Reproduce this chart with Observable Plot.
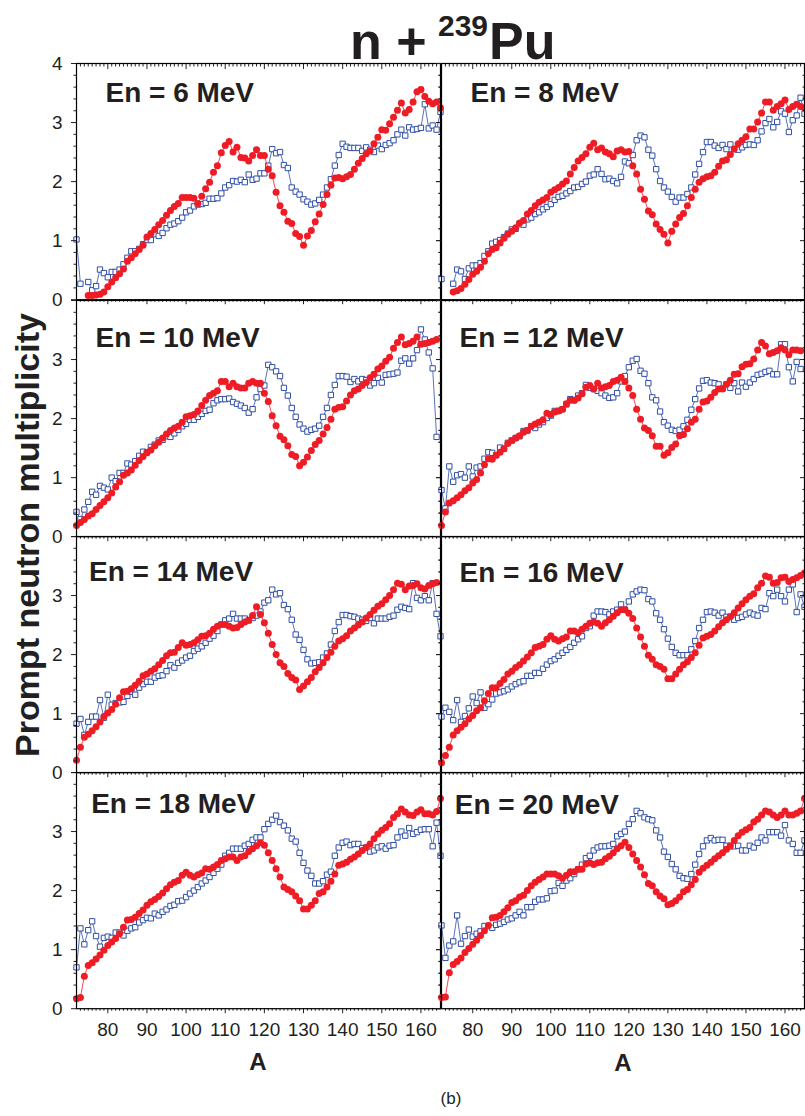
<!DOCTYPE html>
<html><head><meta charset="utf-8">
<script src="https://cdn.jsdelivr.net/npm/d3@7"></script>
<script src="https://cdn.jsdelivr.net/npm/@observablehq/plot@0.6"></script>
<style>
body{margin:0;background:#fff;}
#wrap{position:relative;width:805px;height:1116px;overflow:hidden;background:#fff;font-family:"Liberation Sans",Arial,sans-serif;color:#231f20}
.panel{position:absolute}
.t{position:absolute;line-height:0;white-space:nowrap}
</style></head><body>
<div id="wrap"></div>
<script>
// ---------------- data ----------------
const energies = [6, 8, 10, 12, 14, 16, 18, 20];
const redStartA  = [75, 75, 72, 72, 72, 72, 72, 72];
const blueStartA = [72, 72, 72, 72, 72, 72, 72, 72];

const red6 = [0.07,0.07,0.08,0.09,0.13,0.22,0.30,0.37,0.44,0.52, 0.65,0.71,0.78,0.85,0.92,1.06,1.12,1.19,1.27,1.34, 1.43,1.51,1.58,1.63,1.73,1.73,1.73,1.72,1.63,1.75, 1.88,1.99,2.16,2.27,2.49,2.61,2.68,2.50,2.58,2.41, 2.40,2.35,2.44,2.54,2.44,2.44,2.21,2.10,1.82,1.59, 1.48,1.33,1.29,1.12,1.07,0.92,1.08,1.17,1.32,1.45, 1.61,1.78,1.94,2.06,2.07,2.05,2.08,2.12,2.21,2.31, 2.39,2.47,2.52,2.64,2.75,2.88,2.87,2.98,3.09,3.21, 3.33,3.16,3.22,3.35,3.52,3.56,3.44,3.36,3.32,3.35, 3.25];
const blue6 = [1.02,0.27,null, 0.30,0.16,0.23,0.51,0.45,0.38,0.47,0.47,0.51,0.60, 0.71,0.82,0.82,0.86,0.94,1.01,1.01,1.11,1.08,1.13, 1.21,1.27,1.29,1.33,1.39,1.48,1.51,1.58,1.61,1.62, 1.64,1.71,1.71,1.72,1.80,1.90,1.94,2.01,2.00,2.03, 1.99,2.12,2.03,2.05,2.14,2.14,2.27,2.55,2.48,2.50, 2.28,2.23,1.90,1.83,1.78,1.70,1.66,1.61,1.63,1.69, 1.78,1.90,2.04,2.27,2.45,2.64,2.59,2.57,2.57,2.57, 2.52,2.58,2.54,2.50,2.61,2.55,2.62,2.65,2.70,2.80, 2.88,2.78,2.92,2.88,2.89,2.91,3.31,2.90,2.95,2.88, 3.18];
const red8 = [0.13,0.15,0.19,0.26,0.34,0.43,0.48,0.55,0.65,0.78, 0.85,0.88,0.96,1.04,1.11,1.16,1.22,1.30,1.34,1.45, 1.51,1.59,1.65,1.69,1.73,1.82,1.86,1.90,1.96,2.01, 2.13,2.24,2.35,2.41,2.47,2.58,2.65,2.54,2.57,2.50, 2.47,2.42,2.52,2.54,2.50,2.51,2.27,2.13,1.87,1.70, 1.50,1.44,1.28,1.19,1.11,0.96,1.16,1.28,1.39,1.46, 1.59,1.73,1.87,1.99,2.05,2.08,2.10,2.16,2.26,2.35, 2.37,2.46,2.55,2.64,2.70,2.76,2.89,2.89,3.01,3.16, 3.35,3.35,3.21,3.27,3.32,3.38,3.22,3.27,3.31,3.27, 3.25];
const blue8 = [0.35,null,null, 0.27,0.51,0.48,0.35,0.53,0.58,0.58,0.62,0.74,0.82, 0.95,0.98,1.01,1.06,1.12,1.19,1.20,1.28,1.27,1.36, 1.39,1.45,1.48,1.53,1.57,1.62,1.69,1.74,1.76,1.80, 1.84,1.90,1.91,1.96,2.00,2.10,2.12,2.21,2.13,2.04, 2.05,2.01,1.97,2.08,2.34,2.31,2.45,2.70,2.78,2.75, 2.54,2.44,2.21,2.01,1.90,1.83,1.74,1.66,1.73,1.73, 1.79,1.90,2.12,2.30,2.50,2.67,2.67,2.61,2.57,2.62, 2.55,2.63,2.55,2.54,2.58,2.62,2.63,2.62,2.70,2.85, 2.99,3.06,2.92,3.01,3.19,3.15,2.84,3.04,3.12,3.42, 3.15];
const red10 = [0.19,0.24,0.29,0.35,0.39,0.46,0.53,0.59,0.66,0.74, 0.84,0.93,1.04,1.08,1.13,1.21,1.29,1.36,1.42,1.47, 1.54,1.60,1.67,1.74,1.80,1.84,1.87,1.94,2.03,2.05, 2.07,2.13,2.22,2.31,2.39,2.43,2.47,2.63,2.63,2.54, 2.60,2.54,2.52,2.52,2.60,2.63,2.60,2.60,2.43,2.29, 2.05,1.88,1.70,1.64,1.54,1.39,1.36,1.20,1.26,1.35, 1.46,1.56,1.63,1.74,1.85,1.99,2.16,2.19,2.20,2.30, 2.40,2.47,2.50,2.56,2.61,2.69,2.75,2.84,2.89,2.97, 3.04,3.19,3.29,3.38,3.25,3.27,3.31,3.38,3.26,3.27, 3.29,3.31,3.34];
const blue10 = [0.42,0.30,0.46,0.59,0.76,0.71,0.86,0.83,0.80,1.00, 0.94,1.08,1.08,1.24,1.22,1.28,1.37,1.44,1.43,1.52, 1.56,1.63,1.64,1.70,1.69,1.75,1.81,1.87,1.91,1.98, 1.98,2.03,2.08,2.13,2.15,2.26,2.31,2.33,2.33,2.34, 2.28,2.25,2.22,2.18,2.10,2.16,2.36,2.50,2.56,2.91, 2.87,2.80,2.72,2.52,2.39,2.18,2.03,1.90,1.83,1.78, 1.81,1.83,1.88,2.03,2.18,2.40,2.57,2.72,2.72,2.71, 2.62,2.67,2.63,2.67,2.65,2.56,2.60,2.69,2.61,2.74, 2.75,2.76,2.78,2.98,3.02,2.93,3.02,3.16,3.51,3.34, 3.12,2.85,1.69];
const red12 = [0.19,0.42,0.57,0.61,0.66,0.71,0.78,0.83,0.91,0.97, 1.08,1.22,1.32,1.31,1.38,1.43,1.49,1.58,1.63,1.67, 1.71,1.77,1.80,1.87,1.91,1.94,1.98,2.09,2.07,2.11, 2.13,2.16,2.25,2.31,2.31,2.35,2.42,2.53,2.56,2.50, 2.60,2.52,2.54,2.56,2.63,2.65,2.70,2.63,2.52,2.39, 2.16,1.99,1.84,1.80,1.71,1.53,1.53,1.38,1.42,1.51, 1.57,1.71,1.73,1.83,1.94,1.99,2.16,2.28,2.30,2.36, 2.44,2.50,2.50,2.58,2.65,2.75,2.76,2.88,2.92,2.93, 3.01,3.16,3.29,3.23,3.10,3.12,3.15,3.20,3.16,3.08, 3.16,3.16,3.15];
const blue12 = [0.79,0.48,1.19,0.93,1.04,1.06,1.00,1.19,1.02,1.17, 1.19,1.32,1.43,1.42,1.38,1.51,1.49,1.59,1.63,1.67, 1.70,1.79,1.80,1.87,1.84,1.90,1.94,2.01,2.05,2.13, 2.13,2.16,2.24,2.33,2.31,2.39,2.43,2.57,2.52,2.50, 2.47,2.43,2.39,2.35,2.36,2.43,2.63,2.72,2.87,2.98, 3.01,2.81,2.76,2.60,2.36,2.31,2.12,1.94,1.88,1.81, 1.79,1.81,1.87,1.98,2.15,2.33,2.51,2.64,2.65,2.61, 2.60,2.58,2.51,2.58,2.52,2.60,2.46,2.61,2.54,2.61, 2.67,2.74,2.76,2.79,2.81,2.75,2.75,3.26,3.26,2.87, 2.63,2.96,2.84];
const red14 = [0.21,0.43,0.60,0.65,0.71,0.78,0.86,0.95,1.01,1.07, 1.16,1.27,1.37,1.38,1.42,1.48,1.55,1.64,1.67,1.72, 1.76,1.83,1.90,1.98,2.03,2.04,2.12,2.20,2.16,2.17, 2.20,2.25,2.31,2.32,2.36,2.43,2.48,2.51,2.51,2.48, 2.45,2.46,2.51,2.55,2.58,2.66,2.81,2.68,2.54,2.36, 2.17,2.00,1.86,1.80,1.68,1.61,1.57,1.41,1.47,1.54, 1.61,1.71,1.78,1.86,1.95,2.04,2.14,2.23,2.27,2.32, 2.40,2.45,2.50,2.55,2.62,2.68,2.75,2.82,2.86,2.93, 3.00,3.10,3.21,3.19,3.10,3.16,3.17,3.20,3.13,3.11, 3.17,3.20,3.22];
const blue14 = [0.83,0.91,0.64,0.86,0.95,0.95,1.23,0.93,1.32,1.15, 1.18,1.19,1.20,1.30,1.37,1.32,1.44,1.50,1.54,1.54, 1.61,1.64,1.65,1.72,1.82,1.78,1.86,1.90,1.95,1.98, 2.06,2.10,2.14,2.20,2.27,2.32,2.40,2.51,2.58,2.61, 2.69,2.61,2.61,2.61,2.58,2.62,2.66,2.73,2.88,2.92, 3.10,3.02,3.04,2.84,2.77,2.59,2.34,2.25,2.08,1.92, 1.85,1.86,1.87,1.95,2.02,2.17,2.40,2.55,2.67,2.67, 2.65,2.64,2.61,2.59,2.57,2.62,2.53,2.61,2.61,2.61, 2.64,2.66,2.76,2.81,2.79,2.77,3.21,2.96,2.92,2.99, 2.92,3.21,2.69,2.31];
const red16 = [0.17,0.29,0.43,0.64,0.71,0.77,0.83,0.91,0.97,1.05, 1.10,1.22,1.34,1.44,1.44,1.51,1.58,1.67,1.72,1.78, 1.83,1.89,1.96,2.03,2.12,2.14,2.17,2.26,2.32,2.26, 2.23,2.27,2.30,2.40,2.40,2.37,2.43,2.48,2.53,2.55, 2.53,2.48,2.54,2.59,2.65,2.71,2.76,2.76,2.70,2.61, 2.45,2.30,2.14,1.99,1.92,1.83,1.80,1.75,1.59,1.59, 1.67,1.75,1.83,1.88,1.95,2.03,2.16,2.28,2.31,2.34, 2.40,2.47,2.54,2.59,2.64,2.71,2.79,2.86,2.93,2.99, 3.03,3.13,3.21,3.33,3.31,3.21,3.22,3.30,3.31,3.24, 3.27,3.30,3.34,3.38];
const blue16 = [0.95,1.10,1.03,0.89,1.23,0.86,0.96,1.09,1.29,1.18, 1.36,1.10,1.16,1.24,1.34,1.36,1.38,1.41,1.46,1.50, 1.53,1.55,1.64,1.64,1.69,1.69,1.76,1.83,1.89,1.92, 1.98,2.03,2.08,2.13,2.20,2.26,2.31,2.45,2.48,2.66, 2.73,2.73,2.72,2.68,2.73,2.76,2.85,2.76,2.90,3.02, 3.07,3.10,3.09,2.94,2.90,2.70,2.59,2.43,2.27,2.13, 2.03,1.99,1.99,1.99,2.09,2.23,2.45,2.59,2.72,2.73, 2.71,2.66,2.71,2.64,2.64,2.59,2.62,2.64,2.68,2.71, 2.68,2.66,2.79,2.77,3.04,2.99,3.10,2.99,2.90,3.10, 3.19,2.72,3.02,2.81];
const red18 = [0.17,0.19,0.55,0.73,0.78,0.84,0.91,0.99,1.07,1.13, 1.19,1.27,1.38,1.50,1.51,1.55,1.61,1.67,1.75,1.81, 1.85,1.90,1.96,2.03,2.10,2.14,2.17,2.26,2.31,2.26, 2.23,2.27,2.30,2.37,2.36,2.40,2.44,2.51,2.54,2.57, 2.57,2.51,2.57,2.59,2.66,2.71,2.76,2.81,2.77,2.64, 2.51,2.37,2.23,2.06,2.02,1.98,1.91,1.83,1.69,1.69, 1.75,1.83,1.95,1.98,2.06,2.16,2.28,2.43,2.45,2.48, 2.53,2.57,2.62,2.68,2.73,2.79,2.88,2.96,3.02,3.07, 3.13,3.24,3.30,3.38,3.33,3.28,3.27,3.33,3.37,3.30, 3.30,3.28,3.34,3.56];
const blue18 = [0.70,1.36,1.09,1.33,1.48,1.23,1.05,1.20,1.22,1.20, 1.29,1.29,1.24,1.32,1.36,1.38,1.46,1.50,1.54,1.53, 1.61,1.58,1.64,1.68,1.74,1.76,1.82,1.83,1.89,1.95, 2.00,2.06,2.12,2.17,2.23,2.30,2.37,2.44,2.59,2.64, 2.71,2.71,2.71,2.76,2.79,2.86,2.90,2.90,3.04,3.13, 3.20,3.27,3.16,3.10,3.02,2.88,2.83,2.64,2.47,2.34, 2.25,2.12,2.12,2.16,2.27,2.32,2.59,2.73,2.81,2.83, 2.77,2.79,2.79,2.72,2.73,2.66,2.68,2.73,2.75,2.71, 2.76,2.77,2.90,3.00,2.93,3.06,2.96,2.99,3.03,3.04, 3.04,2.75,3.15,2.59];
const red20 = [0.19,0.20,0.61,0.75,0.80,0.86,0.95,1.02,1.09,1.16, 1.24,1.32,1.41,1.54,1.55,1.58,1.64,1.71,1.80,1.83, 1.89,1.92,2.00,2.08,2.14,2.19,2.23,2.28,2.28,2.28, 2.25,2.21,2.26,2.32,2.32,2.36,2.36,2.45,2.47,2.44, 2.47,2.48,2.54,2.58,2.64,2.71,2.76,2.82,2.73,2.62, 2.51,2.40,2.27,2.12,2.08,1.98,1.91,1.86,1.76,1.78, 1.83,1.89,1.98,2.02,2.10,2.19,2.31,2.38,2.43,2.48, 2.54,2.59,2.64,2.70,2.76,2.85,2.93,2.99,3.03,3.07, 3.16,3.21,3.28,3.35,3.33,3.28,3.24,3.28,3.35,3.28, 3.28,3.31,3.35,3.56];
const blue20 = [1.41,0.86,1.07,1.14,1.58,1.10,1.23,1.34,1.22,1.27, 1.31,1.40,1.40,1.37,1.42,1.44,1.47,1.51,1.53,1.58, 1.64,1.58,1.72,1.72,1.81,1.85,1.85,1.87,1.99,2.00, 2.13,2.08,2.17,2.21,2.28,2.36,2.44,2.55,2.59,2.68, 2.73,2.75,2.75,2.76,2.79,2.92,2.96,3.00,3.13,3.21, 3.35,3.31,3.24,3.21,3.19,3.02,2.90,2.66,2.57,2.45, 2.36,2.25,2.21,2.20,2.28,2.44,2.62,2.75,2.85,2.89, 2.85,2.86,2.86,2.76,2.75,2.75,2.76,2.68,2.68,2.76, 2.73,2.81,2.90,2.85,2.99,2.99,2.99,2.93,3.11,2.85, 2.79,2.64,2.64,2.85];

const redSeries  = [red6, red8, red10, red12, red14, red16, red18, red20];
const blueSeries = [blue6, blue8, blue10, blue12, blue14, blue16, blue18, blue20];

const xDomain = [72, 165];
const xMajor = [80, 90, 100, 110, 120, 130, 140, 150, 160];
const yMajor = [0, 1, 2, 3, 4];

// ---------------- layout / style ----------------
const RED = "#ee1c25", BLUE = "#2f4ea6", INK = "#231f20";
const FONT = "'Liberation Sans', Arial, sans-serif";
const xMinor = d3.range(73, 165).filter(v => v % 10 !== 0);
const yMinor = d3.range(1, 20).filter(k => k % 5 !== 0).map(k => k / 5);
const colLeft = [76, 441], colWidth = [364, 363];
const top0 = 63.3, rowH = 236.2;
const labelDx = [29, 29, 19, 18, 12.5, 18, 14.7, 13.3];
const labelDy = [38.5, 38.5, 47, 47, 44.6, 45.6, 41, 42];

const wrap = document.getElementById("wrap");
const toRows = (start, vals) => vals.map((v, i) => ({A: start + i, v}));
const blank = () => "";

energies.forEach((e, i) => {
  const col = i % 2, row = Math.floor(i / 2);
  const mL = 50, mR = 8, mT = 8, mB = row === 3 ? 50 : 10;
  const red = toRows(redStartA[i], redSeries[i]);
  const blue = toRows(blueStartA[i], blueSeries[i]);
  const marks = [
    Plot.line(blue, {x: "A", y: "v", stroke: BLUE, strokeWidth: 0.8}),
    Plot.dot(blue, {x: "A", y: "v", symbol: "square", r: 3, stroke: BLUE, strokeWidth: 1, fill: "white"}),
    Plot.line(red, {x: "A", y: "v", stroke: RED, strokeWidth: 0.8}),
    Plot.dot(red, {x: "A", y: "v", r: 3.5, fill: RED}),
    Plot.axisX({ticks: xMajor, tickSize: 5, tickPadding: 9, fontSize: 19, tickFormat: row === 3 ? (d => String(d)) : blank}),
    Plot.axisX({ticks: xMinor, tickSize: 2.5, tickFormat: blank}),
    Plot.axisY({ticks: yMajor, tickSize: 5, tickPadding: 9, fontSize: 19,
      tickFormat: col === 0 ? (d => (row === 0 || d < 4) ? String(d) : "") : blank}),
    Plot.axisY({ticks: yMinor, tickSize: 2.5, tickFormat: blank}),
    Plot.axisY({anchor: "right", ticks: yMajor, tickSize: -5, tickFormat: blank}),
    Plot.axisY({anchor: "right", ticks: yMinor, tickSize: -2.5, tickFormat: blank}),
    Plot.frame({stroke: "#000", strokeWidth: 1.2}),
    Plot.text([`En = ${e} MeV`], {text: d => d, frameAnchor: "top-left", dx: labelDx[i], dy: labelDy[i],
      textAnchor: "start", lineAnchor: "bottom", fontSize: 28, fontWeight: "bold", fill: INK})
  ];
  if (row === 0) {
    marks.push(Plot.axisX({anchor: "top", ticks: xMajor, tickSize: -5, tickFormat: blank}));
    marks.push(Plot.axisX({anchor: "top", ticks: xMinor, tickSize: -2.5, tickFormat: blank}));
  }
  const chart = Plot.plot({
    width: colWidth[col] + mL + mR, height: rowH + mT + mB,
    marginLeft: mL, marginRight: mR, marginTop: mT, marginBottom: mB,
    x: {domain: xDomain, label: null},
    y: {domain: [0, 4], label: null},
    style: {background: "transparent", overflow: "visible", fontFamily: FONT, color: INK},
    marks
  });
  const div = document.createElement("div");
  div.className = "panel";
  div.style.left = (colLeft[col] - mL) + "px";
  div.style.top = (top0 + row * rowH - mT) + "px";
  div.style.width = (colWidth[col] + mL + mR) + "px";
  div.appendChild(chart);
  wrap.appendChild(div);
});

// ---------------- text outside the plots ----------------
function addText(str, {x, baseline, size, weight = "normal", anchor = "start", family = FONT}) {
  const s = document.createElement("div");
  s.className = "t";
  s.textContent = str;
  s.style.fontFamily = family;
  s.style.fontSize = size + "px";
  s.style.fontWeight = weight;
  s.style.top = (baseline - 0.3465 * size) + "px";
  s.style.left = x + "px";
  if (anchor === "middle") s.style.transform = "translateX(-50%)";
  wrap.appendChild(s);
  return s;
}
addText("n +", {x: 350, baseline: 59, size: 52, weight: "bold"});
addText("239", {x: 438, baseline: 36, size: 30, weight: "bold"});
addText("Pu", {x: 489, baseline: 59, size: 52, weight: "bold"});
addText("A", {x: 258, baseline: 1070, size: 24, weight: "bold", anchor: "middle"});
addText("A", {x: 623, baseline: 1071, size: 24, weight: "bold", anchor: "middle"});
addText("(b)", {x: 451, baseline: 1105, size: 17, anchor: "middle"});

const yl = document.createElement("div");
yl.textContent = "Prompt neutron multiplicity";
Object.assign(yl.style, {position: "absolute", left: "27px", top: "535px", transform: "translate(-50%,-50%) rotate(-90deg)",
  whiteSpace: "nowrap", fontFamily: FONT, fontWeight: "bold", fontSize: "34px", lineHeight: "1"});
wrap.appendChild(yl);
</script>
</body></html>
